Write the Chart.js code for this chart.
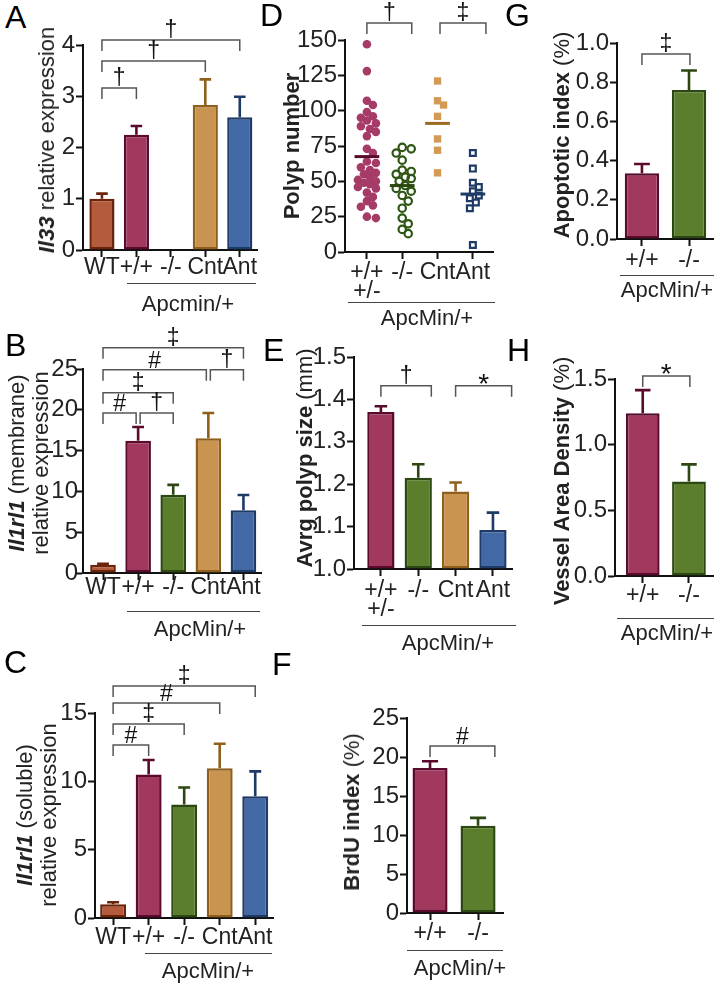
<!DOCTYPE html>
<html><head><meta charset="utf-8">
<script src="https://cdn.jsdelivr.net/npm/chart.js@4.4.0/dist/chart.umd.min.js"></script>
<style>
html,body{margin:0;padding:0;background:#fff;}
#page{position:relative;width:721px;height:987px;overflow:hidden;background:#fff;font-family:"Liberation Sans",Arial,Helvetica,sans-serif;color:#222;}
canvas{position:absolute;}
.rot{position:absolute;white-space:nowrap;transform:translate(-50%,-50%) rotate(-90deg);font-size:22px;line-height:24px;text-align:center;color:#222;}
.letter{position:absolute;font-size:32px;line-height:32px;color:#000;}
.grp{position:absolute;border-top:1.5px solid #444;height:0;}
.glab{position:absolute;transform:translate(-50%,-50%);font-size:22px;line-height:24px;white-space:nowrap;color:#222;}
</style></head>
<body><div id="page"></div>
<script>
// ---------------- DATA ----------------
const barCats = ['WT', '+/+', '-/-', 'Cnt', 'Ant'];
const apcCats = [['+/+', '+/-'], '-/-', 'Cnt', 'Ant'];
const twoCats = ['+/+', '-/-'];

const aIl33 = [1.0, 2.25, null, 2.83, 2.59];
const aIl33Sem = [0.10, 0.17, null, 0.50, 0.40];

const bMembrane = [1.0, 16.2, 9.6, 16.5, 7.7];
const bMembraneSem = [0.12, 1.7, 1.2, 3.1, 1.85];

const cSoluble = [1.0, 10.5, 8.3, 10.95, 8.9];
const cSolubleSem = [0.15, 1.06, 1.25, 1.8, 1.83];

const dPolypHet = [147, 128, 107, 104, 99, 96, 95, 93, 91, 89, 87, 85, 82, 73, 70, 64, 63, 60, 58, 56, 55, 53, 51, 50, 49, 48, 46, 45, 42, 39, 36, 33, 32, 25, 24];
const dPolypKO = [74, 73, 70, 65, 58, 57, 55, 53, 52, 50, 47, 45, 43, 40, 36, 31, 24, 20, 16, 13];
const dPolypCnt = [121, 107, 104, 96, 80, 72, 56];
const dPolypAnt = [70, 59, 49, 46, 43, 40, 38, 35, 31, 5];
const dPolypMeans = [67.5, 47, 91, 41];

const eSize = [1.37, 1.215, 1.183, 1.092];
const eSizeSem = [0.014, 0.032, 0.021, 0.041];

const fBrdU = [18.6, 11.2];
const fBrdUSem = [0.85, 1.0];

const gApop = [0.335, 0.76];
const gApopSem = [0.048, 0.10];

const hVessel = [1.24, 0.72];
const hVesselSem = [0.175, 0.13];

// significance brackets: [from, to, height (data units), symbol]
const aSig = [[0, 4, 4.10, '†'], [0, 3, 3.69, '†'], [0, 1, 3.16, '†']];
const bSig = [[0, 4, 27.6, '‡'], [0, 3, 24.9, '#'], [3, 4, 24.9, '†'], [0, 2, 22.1, '‡'], [0, 1, 19.6, '#'], [1, 2, 19.6, '†']];
const cSig = [[0, 4, 16.97, '‡'], [0, 3, 15.73, '#'], [0, 2, 14.19, '‡'], [0, 1, 12.66, '#']];
const dSig = [[0, 1.27, 162, '†'], [2.07, 3.37, 162, '‡']];
const eSig = [[0, 1.35, 1.432, '†'], [2, 3.5, 1.432, '*']];
const fSig = [[0, 1.35, 21.4, '#']];
const gSig = [[0, 1.02, 0.944, '‡']];
const hSig = [[0, 1.02, 1.523, '*']];

// ---------------- STYLE ----------------
const FONT = '"Liberation Sans", Arial, Helvetica, sans-serif';
const COL = {
  wt: ['#B35B3C', '#6B240A'],
  pp: ['#A1395F', '#5A0B2D'],
  ko: ['#5B7E2D', '#2C4711'],
  cnt: ['#C9944F', '#8F5F1E'],
  ant: ['#4268A6', '#1E3A66']
};
const page = document.getElementById('page');

const errPlugin = {
  id: 'errbars',
  afterDatasetsDraw(chart) {
    const ctx = chart.ctx, y = chart.scales.y;
    chart.data.datasets.forEach((ds, di) => {
      if (!ds.sem) return;
      const meta = chart.getDatasetMeta(di);
      meta.data.forEach((el, i) => {
        const v = ds.data[i].y, s = ds.sem[i];
        if (v == null || s == null) return;
        const yTop = y.getPixelForValue(v), yErr = y.getPixelForValue(v + s);
        const cap = el.width * 0.46;
        ctx.save();
        ctx.strokeStyle = ds.borderColor[i];
        ctx.lineWidth = 2.6;
        ctx.beginPath();
        ctx.moveTo(el.x, yTop); ctx.lineTo(el.x, yErr);
        ctx.moveTo(el.x - cap / 2, yErr); ctx.lineTo(el.x + cap / 2, yErr);
        ctx.stroke();
        ctx.restore();
      });
    });
  }
};

function makeSig(items) {
  return {
    id: 'sig',
    afterDraw(chart) {
      const ctx = chart.ctx, x = chart.scales.x, y = chart.scales.y;
      ctx.save();
      ctx.strokeStyle = '#555';
      ctx.lineWidth = 1.5;
      ctx.fillStyle = '#111';
      items.forEach(([a, b, v, sym]) => {
        let xa = x.getPixelForValue(a), xb = x.getPixelForValue(b);
        const yy = y.getPixelForValue(v);
        if (items.some(o => o[2] === v && o[1] === a)) xa += 2;
        if (items.some(o => o[2] === v && o[0] === b)) xb -= 2;
        const drop = 11;
        ctx.beginPath();
        ctx.moveTo(xa, yy + drop); ctx.lineTo(xa, yy); ctx.lineTo(xb, yy); ctx.lineTo(xb, yy + drop);
        ctx.stroke();
        ctx.font = (sym === '*' ? 28 : 23) + 'px ' + FONT;
        ctx.textAlign = 'center';
        ctx.textBaseline = 'alphabetic';
        const m = ctx.measureText(sym);
        ctx.fillText(sym, (xa + xb) / 2, yy - 2 - m.actualBoundingBoxDescent);
      });
      ctx.restore();
    }
  };
}

function swarm(vals, pyu, pxu, minDist, step, maxOff) {
  const placed = [], out = new Array(vals.length).fill(0);
  const idx = vals.map((_, i) => i).sort((a, b) => vals[b] - vals[a]);
  for (const i of idx) {
    const yp = vals[i] * pyu;
    let best = 0, bestD = -1;
    for (let k = 0; ; k++) {
      const c = k === 0 ? 0 : (k % 2 ? 1 : -1) * Math.ceil(k / 2) * step;
      if (Math.abs(c) > maxOff) break;
      let dmin = Infinity;
      for (const p of placed) dmin = Math.min(dmin, Math.hypot(p.x - c, p.y - yp));
      if (dmin >= minDist) { best = c; break; }
      if (dmin > bestD) { bestD = dmin; best = c; }
    }
    placed.push({ x: best, y: yp });
    out[i] = best / pxu;
  }
  return out;
}

function barSet(values, sem, keys, base) {
  return [{
    type: 'bar',
    data: values.map((v, i) => ({ x: i, y: v })),
    backgroundColor: keys.map(k => COL[k][0]),
    borderColor: keys.map(k => COL[k][1]),
    borderWidth: 2.5,
    borderSkipped: false,
    barPercentage: 0.73,
    categoryPercentage: 1,
    base: base,
    sem: sem
  }];
}

function panel(o) {
  const padTop = Math.min(62, o.yTop);
  const yw = 56, xh = 62;
  const left = o.x0 - yw, top = o.yTop - padTop;
  const width = o.x1 + 8 - left, height = o.yBot + xh - top;
  const cv = document.createElement('canvas');
  cv.width = width; cv.height = height;
  Object.assign(cv.style, { left: left + 'px', top: top + 'px', width: width + 'px', height: height + 'px' });
  page.appendChild(cv);
  const mkGrid = () => ({ drawOnChartArea: false, drawTicks: true, offset: false, tickLength: 7, tickWidth: 2, tickColor: '#111' });
  const mkBorder = () => ({ display: true, color: '#111', width: 2 });
  new Chart(cv, {
    type: o.type,
    data: { datasets: o.datasets },
    options: {
      responsive: false, animation: false, devicePixelRatio: 1, events: [],
      layout: { padding: { top: padTop, right: 8, left: 0, bottom: 0 } },
      plugins: { legend: { display: false }, tooltip: { enabled: false } },
      scales: {
        x: {
          type: 'linear', min: o.xMin, max: o.xMax, offset: false,
          afterBuildTicks: s => { s.ticks = o.labels.map((_, i) => ({ value: i })); },
          afterFit: s => { s.height = xh; },
          ticks: { callback: (v, i) => o.labels[i], font: { family: FONT, size: 23, lineHeight: 0.82 }, color: '#222', padding: o.lpad, maxRotation: 0, minRotation: 0, autoSkip: false },
          grid: mkGrid(), border: mkBorder()
        },
        y: {
          type: 'linear', min: o.yMin, max: o.yMax, offset: false,
          afterFit: s => { s.width = yw; },
          ticks: { stepSize: o.step, callback: v => o.dec ? v.toFixed(o.dec) : String(Math.round(v)), font: { family: FONT, size: 24 }, color: '#222', padding: o.ypad === undefined ? 1 : o.ypad },
          grid: mkGrid(), border: mkBorder()
        }
      }
    },
    plugins: [errPlugin, makeSig(o.sig)]
  });
}

function rotTitle(html, cx, cy) {
  const d = document.createElement('div');
  d.className = 'rot'; d.style.left = cx + 'px'; d.style.top = cy + 'px'; d.innerHTML = html;
  page.appendChild(d);
}
function letter(ch, x, y) {
  const d = document.createElement('div');
  d.className = 'letter'; d.style.left = x + 'px'; d.style.top = y + 'px'; d.textContent = ch;
  page.appendChild(d);
}
function group(text, xa, xb, ly, tx, ty) {
  const l = document.createElement('div');
  l.className = 'grp'; l.style.left = xa + 'px'; l.style.top = ly + 'px'; l.style.width = (xb - xa) + 'px';
  page.appendChild(l);
  const t = document.createElement('div');
  t.className = 'glab'; t.style.left = tx + 'px'; t.style.top = ty + 'px'; t.textContent = text;
  page.appendChild(t);
}

// ---------------- PANELS ----------------
const fiveKeys = ['wt', 'pp', 'ko', 'cnt', 'ant'];
const fourKeys = ['pp', 'ko', 'cnt', 'ant'];
const twoKeys = ['pp', 'ko'];

panel({ type: 'bar', x0: 83, x1: 257, yTop: 45, yBot: 250, xMin: -0.55, xMax: 4.5, yMin: 0, yMax: 4, step: 1, dec: 0, lpad: 1,
  labels: barCats, datasets: barSet(aIl33, aIl33Sem, fiveKeys, 0), sig: aSig });
panel({ type: 'bar', x0: 83, x1: 261, yTop: 369, yBot: 573, xMin: -0.57, xMax: 4.5, yMin: 0, yMax: 25, step: 5, dec: 0, lpad: -2, ypad: -2,
  labels: barCats, datasets: barSet(bMembrane, bMembraneSem, fiveKeys, 0), sig: bSig });
panel({ type: 'bar', x0: 95, x1: 273, yTop: 713, yBot: 918, xMin: -0.51, xMax: 4.5, yMin: 0, yMax: 15, step: 5, dec: 0, lpad: 3,
  labels: barCats, datasets: barSet(cSoluble, cSolubleSem, fiveKeys, 0), sig: cSig });

// D scatter
(function () {
  const o = { type: 'scatter', x0: 345, x1: 493, yTop: 40, yBot: 252, xMin: -0.62, xMax: 3.57, yMin: 0, yMax: 150, step: 25, dec: 0, lpad: 4, labels: apcCats, sig: dSig };
  const pyu = (o.yBot - o.yTop) / (o.yMax - o.yMin), pxu = (o.x1 - o.x0) / (o.xMax - o.xMin);
  const groups = [dPolypHet, dPolypKO, dPolypCnt, dPolypAnt];
  const styles = [
    { pointStyle: 'circle', pointRadius: 4.3, backgroundColor: '#A63B68', borderColor: '#A63B68', borderWidth: 0 },
    { pointStyle: 'circle', pointRadius: 3.7, backgroundColor: 'rgba(0,0,0,0)', borderColor: '#2F5614', borderWidth: 2.2 },
    { pointStyle: 'rect', pointRadius: 5.2, backgroundColor: '#D29A55', borderColor: '#D29A55', borderWidth: 0 },
    { pointStyle: 'rect', pointRadius: 4.1, backgroundColor: 'rgba(0,0,0,0)', borderColor: '#1E3A66', borderWidth: 2.2 }
  ];
  const meanCols = ['#5A0B2D', '#2C4711', '#9A6A22', '#1E3A66'];
  const ds = [];
  groups.forEach((vals, g) => {
    const jit = swarm(vals, pyu, pxu, 7, 3, 10);
    ds.push(Object.assign({ type: 'scatter', order: 1, data: vals.map((v, k) => ({ x: g + jit[k], y: v })) }, styles[g]));
    ds.push({ type: 'line', order: 0, data: [{ x: g - 0.35, y: dPolypMeans[g] }, { x: g + 0.35, y: dPolypMeans[g] }],
      borderColor: meanCols[g], borderWidth: 3, pointRadius: 0, fill: false });
  });
  o.datasets = ds;
  panel(o);
})();

panel({ type: 'bar', x0: 354, x1: 512, yTop: 357, yBot: 569, xMin: -0.72, xMax: 3.51, yMin: 1.0, yMax: 1.5, step: 0.1, dec: 1, lpad: 5,
  labels: apcCats, datasets: barSet(eSize, eSizeSem, fourKeys, 1.0), sig: eSig });
panel({ type: 'bar', x0: 407, x1: 503, yTop: 718, yBot: 913, xMin: -0.48, xMax: 1.52, yMin: 0, yMax: 25, step: 5, dec: 0, lpad: 4,
  labels: twoCats, datasets: barSet(fBrdU, fBrdUSem, twoKeys, 0), sig: fSig });
panel({ type: 'bar', x0: 617, x1: 713, yTop: 43, yBot: 239, xMin: -0.53, xMax: 1.51, yMin: 0, yMax: 1.0, step: 0.2, dec: 1, lpad: 5,
  labels: twoCats, datasets: barSet(gApop, gApopSem, twoKeys, 0), sig: gSig });
panel({ type: 'bar', x0: 615, x1: 713, yTop: 379, yBot: 576, xMin: -0.6, xMax: 1.52, yMin: 0, yMax: 1.5, step: 0.5, dec: 1, lpad: 3,
  labels: twoCats, datasets: barSet(hVessel, hVesselSem, twoKeys, 0), sig: hSig });

// ---------------- TEXT ----------------
letter('A', 5, 1); letter('B', 5, 329); letter('C', 4, 646);
letter('D', 260, -1); letter('E', 263, 334); letter('F', 272, 648);
letter('G', 505, -1); letter('H', 507, 334);

rotTitle('<b><i>Il33</i></b> relative expression', 47, 140);
rotTitle('<b><i>Il1rl1</i></b> (membrane)<br>relative expression', 29, 463);
rotTitle('<b><i>Il1rl1</i></b> (soluble)<br>relative expression', 37, 815);
rotTitle('<b>Polyp number</b>', 292, 146);
rotTitle('<b>Avrg polyp size</b> (mm)', 305, 458);
rotTitle('<b>BrdU index</b> (%)', 352, 812);
rotTitle('<b>Apoptotic index</b> (%)', 562, 135);
rotTitle('<b>Vessel Area Density</b> (%)', 562, 481);

group('Apcmin/+', 127, 256, 283, 188, 304);
group('ApcMin/+', 127, 260, 611, 200, 629);
group('ApcMin/+', 145, 272, 953, 208, 971);
group('ApcMin/+', 348, 495, 302, 427, 318);
group('ApcMin/+', 362, 516, 625, 448, 643);
group('ApcMin/+', 407, 503, 950, 460, 968);
group('ApcMin/+', 620, 714, 275, 667, 290);
group('ApcMin/+', 617, 714, 618, 667, 633);
</script></body></html>
